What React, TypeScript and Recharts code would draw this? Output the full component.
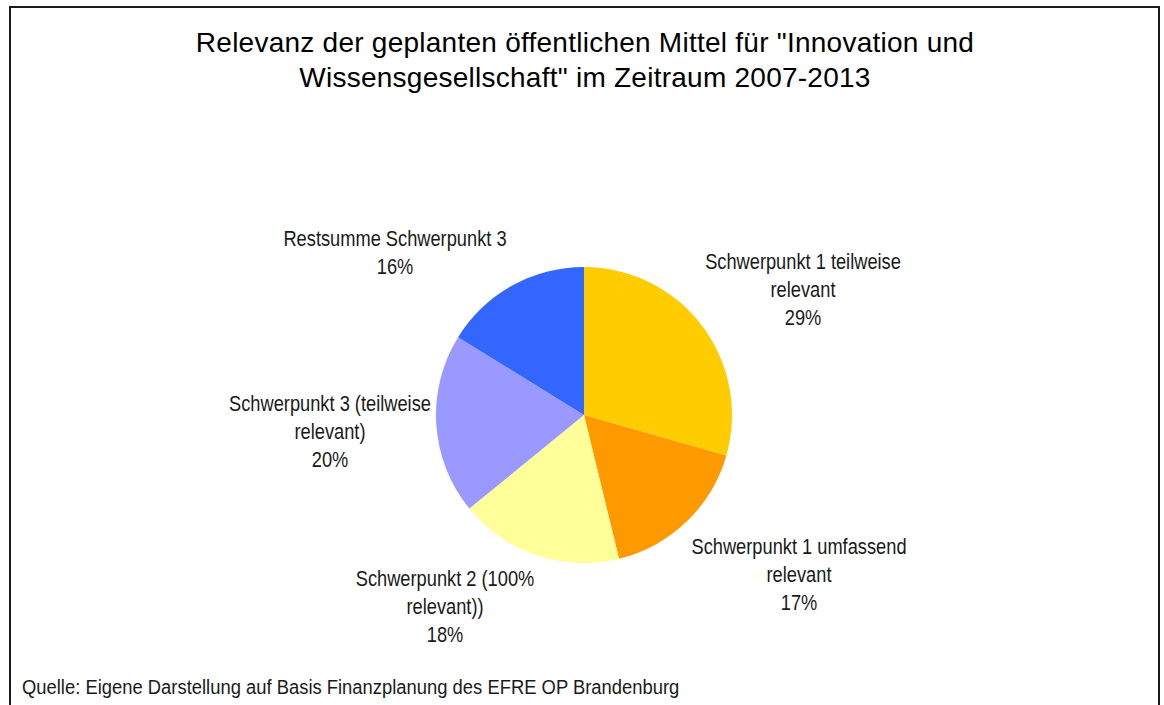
import React from 'react';
import { PieChart, Pie, Cell } from 'recharts';

// Anteile der Schwerpunkte (in %), im Uhrzeigersinn ab 12 Uhr
const CATEGORIES = [
  ['Schwerpunkt 1 teilweise', 'relevant'],
  ['Schwerpunkt 1 umfassend', 'relevant'],
  ['Schwerpunkt 2 (100%', 'relevant))'],
  ['Schwerpunkt 3 (teilweise', 'relevant)'],
  ['Restsumme Schwerpunkt 3'],
];
const SHARES = [29.4, 16.8, 17.9, 19.7, 16.2];
const COLORS = ['#FFCC00', '#FF9900', '#FFFF99', '#9999FF', '#3366FF'];

// label block position relative to pie centre (centre x, first line y)
const LABEL_POS = [
  { x: 219, y: -154 },
  { x: 215, y: 131 },
  { x: -139, y: 163 },
  { x: -254, y: -12 },
  { x: -189, y: -177 },
];

const SANS = "'Liberation Sans', Arial, sans-serif";
const NARROW_SCALE = 0.83;

const data = CATEGORIES.map((lines, i) => ({ name: lines.join(' '), lines, value: SHARES[i] }));
const total = SHARES.reduce((a, b) => a + b, 0);

const renderLabel = (props: any) => {
  const { cx, cy, index, value } = props;
  const pos = LABEL_POS[index];
  const lines = [...data[index].lines, `${Math.round((value / total) * 100)}%`];
  return (
    <text
      transform={`translate(${cx + pos.x},${cy + pos.y + 8}) scale(${NARROW_SCALE},1)`}
      textAnchor="middle"
      fontFamily={SANS}
      fontSize={22}
      fill="#1a1a1a"
    >
      {lines.map((l, i) => (
        <tspan key={i} x={0} dy={i === 0 ? 0 : 28}>{l}</tspan>
      ))}
    </text>
  );
};

export default function App() {
  return (
    <div style={{ position: 'absolute', left: 0, top: 0, width: 1164, height: 705, overflow: 'hidden', background: '#fff' }}>
      <div style={{ position: 'absolute', left: 9, top: 6, width: 1147, height: 720, border: '2px solid #1a1a1a' }} />
      <div style={{
        position: 'absolute', left: 0, top: 25, width: 1170, textAlign: 'center',
        fontFamily: SANS, fontSize: 28, lineHeight: '35px', letterSpacing: '0.25px', color: '#000',
      }}>
        Relevanz der geplanten öffentlichen Mittel für "Innovation und<br />
        Wissensgesellschaft" im Zeitraum 2007-2013
      </div>
      <div style={{ position: 'absolute', left: 0, top: 0 }}>
        <PieChart width={1164} height={705} margin={{ top: 0, right: 0, bottom: 0, left: 0 }}>
          <Pie
            data={data}
            dataKey="value"
            nameKey="name"
            cx={584}
            cy={415}
            outerRadius={148}
            startAngle={90}
            endAngle={-270}
            stroke="none"
            label={renderLabel}
            labelLine={false}
            isAnimationActive={false}
          >
            {data.map((d, i) => (
              <Cell key={d.name} fill={COLORS[i]} />
            ))}
          </Pie>
        </PieChart>
      </div>
      <div style={{
        position: 'absolute', left: 22, top: 676, fontFamily: SANS, fontSize: 20, color: '#1a1a1a',
        whiteSpace: 'nowrap', transform: 'scaleX(0.92)', transformOrigin: 'left top',
      }}>
        Quelle: Eigene Darstellung auf Basis Finanzplanung des EFRE OP Brandenburg
      </div>
    </div>
  );
}
